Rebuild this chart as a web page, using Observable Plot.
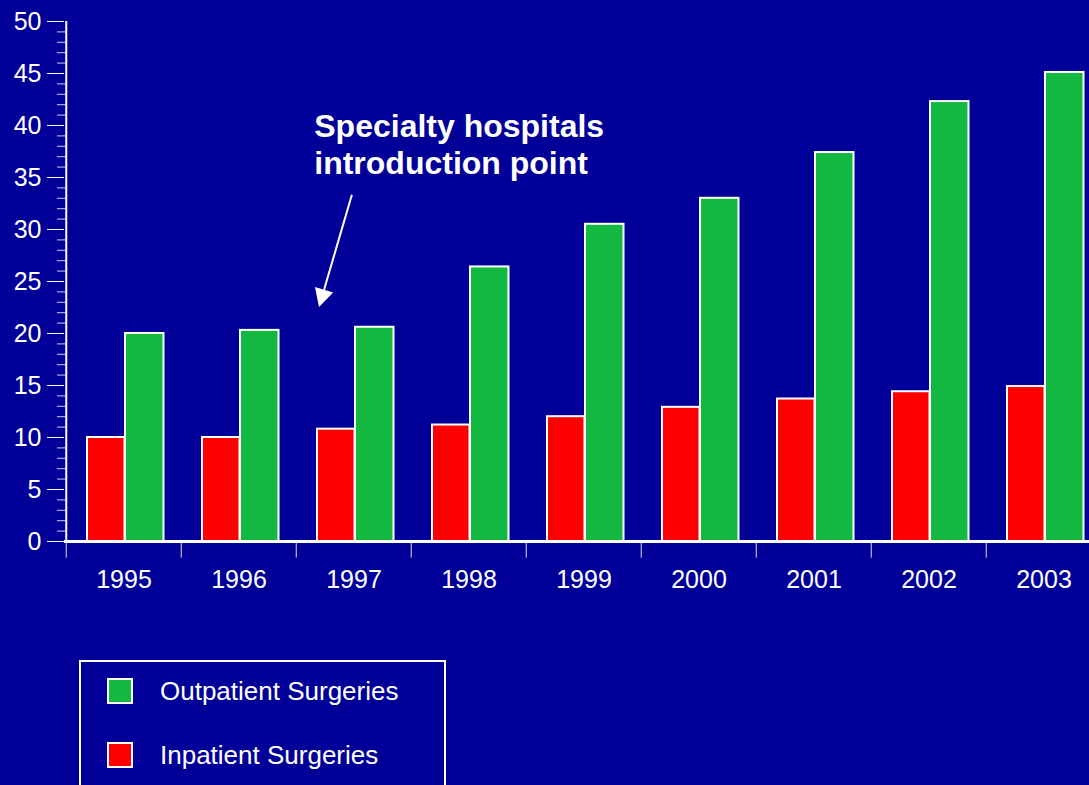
<!DOCTYPE html>
<html><head><meta charset="utf-8">
<script src="https://cdn.jsdelivr.net/npm/d3@7"></script>
<script src="https://cdn.jsdelivr.net/npm/@observablehq/plot@0.6"></script>
<style>
html,body{margin:0;padding:0;background:#000099;}
body{width:1089px;height:785px;overflow:hidden;position:relative;font-family:"Liberation Sans",Arial,sans-serif;}
#chart svg{display:block;overflow:visible;}
#legend{position:absolute;left:79px;top:660px;width:367px;height:150px;border:2px solid white;box-sizing:border-box;}
.item{position:absolute;left:26px;display:flex;align-items:center;color:white;font-size:26px;line-height:30px;white-space:nowrap;}
.sw{width:26px;height:26px;box-sizing:border-box;border:2px solid white;margin-right:27px;flex:none;}
</style></head><body>
<div id="chart"></div>
<div id="legend"></div>
<script>
// ---- data ----
const years = ["1995","1996","1997","1998","1999","2000","2001","2002","2003"];
const inpatient  = [10.0, 10.0, 10.8, 11.2, 12.0, 12.9, 13.7, 14.4, 14.9];
const outpatient = [20.0, 20.3, 20.6, 26.4, 30.5, 33.0, 37.4, 42.3, 45.1];
const seriesNames  = ["Outpatient Surgeries", "Inpatient Surgeries"];
const seriesColors = ["#12b83f", "#ff0000"];
const yTickLabels = [0, 5, 10, 15, 20, 25, 30, 35, 40, 45, 50];
const yMinorTicks = [1,2,3,4,6,7,8,9,11,12,13,14,16,17,18,19,21,22,23,24,26,27,28,29,31,32,33,34,36,37,38,39,41,42,43,44,46,47,48,49];
const annotationText = "Specialty hospitals\nintroduction point";
const annotationYear = "1997";
const annotationTextValue = 41.4;
const arrowFromValue = 33.3;
const arrowToValue = 22.5;

// ---- tables ----
const inTable  = years.map((y, i) => ({year: y, value: inpatient[i]}));
const outTable = years.map((y, i) => ({year: y, value: outpatient[i]}));

const X0 = 64, X1 = 1103.4;
const bw = (X1 - X0) / years.length;

const arrowMark = (index, scales) => {
  const x = scales.x, y = scales.y;
  const w = typeof x.bandwidth === "function" ? x.bandwidth() : bw;
  const x1 = x(annotationYear) + w * 0.486, y1 = y(arrowFromValue);
  const x2 = x(annotationYear) + w * 0.20,  y2 = y(arrowToValue);
  const dx = x2 - x1, dy = y2 - y1, len = Math.hypot(dx, dy);
  const ux = dx / len, uy = dy / len, px = -uy, py = ux;
  const hl = 18, hw = 9.5;
  const bx = x2 - ux * hl, by = y2 - uy * hl;
  const g = d3.create("svg:g");
  g.append("line").attr("x1", x1).attr("y1", y1).attr("x2", bx).attr("y2", by)
    .attr("stroke", "white").attr("stroke-width", 2);
  g.append("polygon")
    .attr("points", [[x2, y2], [bx + px * hw, by + py * hw], [bx - px * hw, by - py * hw]].map(p => p.join(",")).join(" "))
    .attr("fill", "white");
  return g.node();
};

const plot = Plot.plot({
  width: 1089, height: 785,
  marginLeft: 64, marginTop: 21, marginBottom: 244, marginRight: 0,
  x: {domain: years, range: [X0, X1], padding: 0, axis: "bottom", tickSize: 0, tickPadding: 29, label: null},
  y: {domain: [0, 50], axis: "left", ticks: yTickLabels, tickSize: 17, tickPadding: 6, label: null},
  style: {background: "#000099", color: "white", fontFamily: '"Liberation Sans", Arial, sans-serif', fontSize: "25px", overflow: "visible"},
  marks: [
    Plot.barY(inTable,  {x: "year", y: "value", fill: seriesColors[1], stroke: "white", strokeWidth: 2, insetLeft: 21, insetRight: 56.5}),
    Plot.barY(outTable, {x: "year", y: "value", fill: seriesColors[0], stroke: "white", strokeWidth: 2, insetLeft: 59, insetRight: 17.5}),
    Plot.ruleY([0], {stroke: "white", strokeWidth: 3}),
    Plot.ruleX([years[0]], {y1: 0, y2: 50, dx: -bw / 2, stroke: "white", strokeWidth: 2}),
    Plot.ruleY(yMinorTicks, {x1: () => years[0], x2: () => years[0], insetRight: bw - 9, dx: -9, stroke: "white", strokeOpacity: 0.8}),
    Plot.ruleX(years, {x: d => d, y1: 0, y2: -1.6, dx: -bw / 2, stroke: "white", strokeOpacity: 0.85}),
    Plot.text([annotationText], {x: () => annotationYear, y: () => annotationTextValue, text: d => d,
      textAnchor: "start", lineAnchor: "top", dx: -bw / 2 + 18, fontSize: 32, fontWeight: "bold", lineHeight: 1.16, fill: "white"}),
    arrowMark
  ]
});
document.getElementById("chart").append(plot);

// ---- legend ----
const legend = document.getElementById("legend");
seriesNames.forEach((name, i) => {
  const item = document.createElement("div");
  item.className = "item";
  item.style.top = (14 + i * 64) + "px";
  const sw = document.createElement("div");
  sw.className = "sw";
  sw.style.background = seriesColors[i];
  const label = document.createElement("span");
  label.textContent = name;
  item.append(sw, label);
  legend.append(item);
});
</script>
</body></html>
